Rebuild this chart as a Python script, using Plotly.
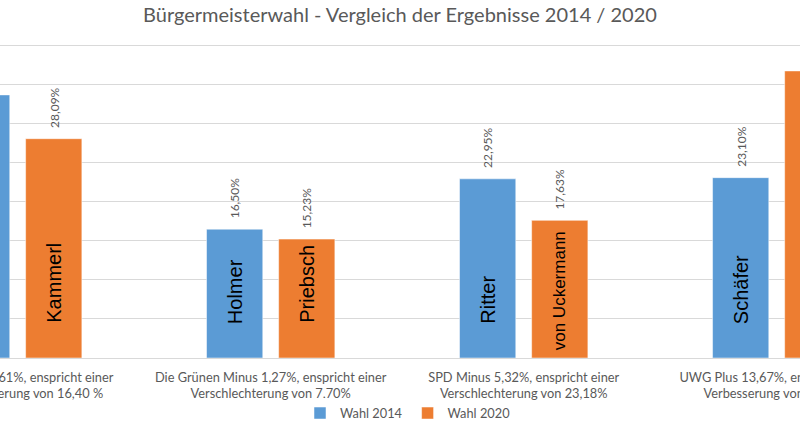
import plotly.graph_objects as go

# group labels below the axis (left and right group are cut off in the original)
groups = [
    "CSU Minus 5,61%, enspricht einer<br>Verschlechterung von 16,40 %",
    "Die Grünen Minus 1,27%, enspricht einer<br>Verschlechterung von 7,70%",
    "SPD Minus 5,32%, enspricht einer<br>Verschlechterung von 23,18%",
    "UWG Plus 13,67%, enspricht einer<br>Verbesserung von 59,18%",
]
names_2014 = ["", "Holmer", "Ritter", "Schäfer"]
names_2020 = ["Kammerl", "Priebsch", "von Uckermann", ""]
wahl_2014 = [33.70, 16.50, 22.95, 23.10]
wahl_2020 = [28.09, 15.23, 17.63, 36.77]

BLUE = "#5B9BD5"
ORANGE = "#ED7D31"
GREY = "#595959"
FONT = "Lato"

bargap = 0.43
bargroupgap = 0.22
half = (1 - bargap) / 4  # centre of each bar relative to group centre

# per-name offset from the base of the bar (px) and font size
name_shift_2014 = [32, 32, 32, 32]
name_shift_2020 = [33, 33, 6, 33]
name_size_2020 = [20, 20, 17, 20]


def pct(v):
    return f"{v:.2f}".replace(".", ",") + "%"


x = list(range(len(groups)))

fig = go.Figure()
fig.add_trace(go.Bar(x=x, y=wahl_2014, name="Wahl 2014", marker_color=BLUE,
                     marker_line=dict(color="white", width=0.5)))
fig.add_trace(go.Bar(x=x, y=wahl_2020, name="Wahl 2020", marker_color=ORANGE,
                     marker_line=dict(color="white", width=0.5)))

annotations = []
for i in x:
    for dx, val, name, shift, size in [
        (-half, wahl_2014[i], names_2014[i], name_shift_2014[i], 20),
        (half, wahl_2020[i], names_2020[i], name_shift_2020[i], name_size_2020[i]),
    ]:
        # value label above the bar
        annotations.append(dict(
            x=i + dx, y=val, xref="x", yref="y", text=pct(val), showarrow=False,
            textangle=-90, yanchor="bottom", yshift=9,
            font=dict(family=FONT, size=12, color=GREY)))
        # candidate name inside the bar
        if name:
            annotations.append(dict(
                x=i + dx, y=0, xref="x", yref="y", text=name, showarrow=False,
                textangle=-90, yanchor="bottom", yshift=shift,
                font=dict(family="Liberation Sans", size=size, color="black")))

fig.update_layout(
    width=800, height=426,
    margin=dict(l=0, r=0, t=44, b=68),
    paper_bgcolor="white", plot_bgcolor="white",
    barmode="group", bargap=bargap, bargroupgap=bargroupgap,
    title=dict(text="Bürgermeisterwahl - Vergleich der Ergebnisse 2014 / 2020",
               x=0.5, xanchor="center", y=0.965, yanchor="middle",
               font=dict(family=FONT, size=20, color=GREY)),
    xaxis=dict(range=[-0.0699, 3.092], tickvals=x, ticktext=groups,
               ticks="", showgrid=False, zeroline=False, showline=False,
               automargin=False, ticklabelstandoff=10, ticklabeloverflow="allow",
               tickfont=dict(family=FONT, size=12.8, color=GREY)),
    yaxis=dict(range=[0, 40.22], dtick=5, showticklabels=False, automargin=False,
               gridcolor="#D9D9D9", gridwidth=1,
               zeroline=True, zerolinecolor="#D9D9D9", zerolinewidth=1),
    legend=dict(orientation="h", x=0.51, xanchor="center",
                yref="container", y=0.03, yanchor="middle",
                font=dict(family=FONT, size=12.8, color=GREY),
                itemwidth=30, traceorder="normal"),
    annotations=annotations,
    showlegend=True,
)

# page without the default body margin, so the figure sits at the window's corner
fig.write_html("out.html", config={"displayModeBar": False},
               post_script="document.body.style.margin = '0';")
